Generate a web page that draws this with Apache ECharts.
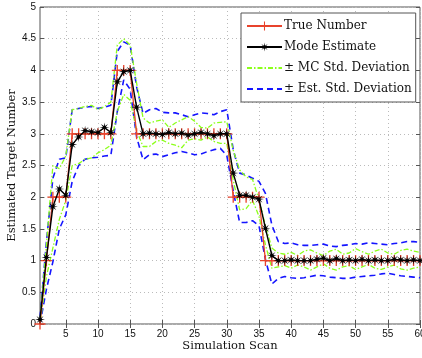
<!DOCTYPE html>
<html>
<head>
<meta charset="utf-8">
<script src="https://cdn.jsdelivr.net/npm/echarts@6/dist/echarts.min.js"></script>
<style>
  html, body { margin: 0; padding: 0; background: #fff; }
  #chart { width: 422px; height: 358px; }
</style>
</head>
<body>
<div id="chart"></div>
<script>
// simulation scans 1..60
var scans = [];
for (var i = 1; i <= 60; i++) scans.push(String(i));

var yTicks = [0, 0.5, 1, 1.5, 2, 2.5, 3, 3.5, 4, 4.5, 5];

var trueNumber = [0, 1, 2, 2, 2, 3, 3, 3, 3, 3, 3, 3, 4, 4, 4, 3, 3, 3, 3, 3,
  3, 3, 3, 3, 3, 3, 3, 3, 3, 3, 2, 2, 2, 2, 2, 1, 1, 1, 1, 1,
  1, 1, 1, 1, 1, 1, 1, 1, 1, 1, 1, 1, 1, 1, 1, 1, 1, 1, 1, 1];

var modeEstimate = [0.07, 1.05, 1.85, 2.13, 2.03, 2.83, 2.95, 3.05, 3.03, 3.02,
  3.1, 3.02, 3.82, 3.98, 4.0, 3.42, 3.0, 3.01, 3.0, 2.99,
  3.02, 3.0, 3.01, 2.98, 3.0, 3.02, 3.0, 2.97, 3.0, 3.0,
  2.38, 2.03, 2.03, 2.0, 1.97, 1.51, 1.08, 1.0, 1.0, 1.01,
  1.0, 1.0, 1.0, 1.02, 1.04, 1.0, 1.03, 1.0, 1.01, 1.0,
  1.02, 1.0, 1.01, 1.0, 1.0, 1.02, 1.01, 1.0, 1.01, 1.0];

var mcUpper = [0.06, 1.25, 2.5, 2.45, 2.65, 3.38, 3.4, 3.43, 3.45, 3.38,
  3.43, 3.5, 4.4, 4.5, 4.4, 3.8, 3.25, 3.17, 3.2, 3.22,
  3.1, 3.17, 3.22, 3.27, 3.2, 3.1, 3.09, 3.17, 3.18, 3.19,
  2.74, 2.43, 2.32, 2.28, 1.96, 1.55, 1.2, 1.12, 1.1, 1.13,
  1.08, 1.15, 1.17, 1.12, 1.08, 1.15, 1.18, 1.1, 1.12, 1.19,
  1.14, 1.1, 1.15, 1.18, 1.12, 1.1, 1.16, 1.18, 1.15, 1.13];

var mcLower = [0.0, 0.75, 1.2, 1.65, 1.95, 2.5, 2.53, 2.6, 2.62, 2.7,
  2.75, 2.82, 3.35, 3.62, 3.53, 3.05, 2.8, 2.8, 2.88, 2.9,
  2.85, 2.82, 2.78, 2.9, 2.92, 2.9, 2.95, 2.88, 2.85, 2.85,
  2.27, 1.8, 1.82, 1.95, 1.7, 1.25, 0.88, 0.9, 0.92, 0.88,
  0.93, 0.9, 0.85, 0.9, 0.95, 0.88, 0.85, 0.9, 0.92, 0.86,
  0.9, 0.94, 0.88, 0.86, 0.9, 0.93, 0.87, 0.85, 0.88, 0.9];

var estUpper = [0.1, 1.3, 2.3, 2.6, 2.62, 3.38, 3.4, 3.42, 3.43, 3.4,
  3.42, 3.45, 4.3, 4.45, 4.4, 3.74, 3.32, 3.38, 3.4, 3.34,
  3.33, 3.33, 3.3, 3.27, 3.3, 3.33, 3.32, 3.3, 3.35, 3.38,
  2.75, 2.38, 2.35, 2.3, 2.25, 2.06, 1.56, 1.3, 1.27, 1.28,
  1.25, 1.24, 1.24, 1.25, 1.26, 1.23, 1.22, 1.24, 1.25, 1.27,
  1.26, 1.28, 1.27, 1.26, 1.25, 1.27, 1.28, 1.3, 1.3, 1.29];

var estLower = [0.0, 0.55, 0.98, 1.5, 1.72, 2.25, 2.5, 2.6, 2.62, 2.63,
  2.65, 2.66, 3.35, 3.85, 3.7, 2.95, 2.59, 2.67, 2.68, 2.64,
  2.67, 2.7, 2.72, 2.7, 2.67, 2.68, 2.72, 2.75, 2.77, 2.66,
  2.1, 1.6, 1.6, 1.63, 1.55, 1.02, 0.63, 0.72, 0.75, 0.73,
  0.72, 0.73, 0.75, 0.77, 0.76, 0.74, 0.73, 0.72, 0.72, 0.74,
  0.75, 0.76, 0.77, 0.79, 0.8, 0.78, 0.76, 0.75, 0.74, 0.73];

var RED = '#e8432c', BLACK = '#000', GREEN = '#8cff1a', BLUE = '#1515ff';
var SERIF = '"DejaVu Serif", serif';
var SANS = '"Liberation Sans", Arial, sans-serif';

// marker glyphs
var plusPath = 'path://M0,4.4H10V5.6H0Z M4.4,0H5.6V10H4.4Z';
function starPath(n, rOut, rIn) {
  var d = '';
  for (var k = 0; k < 2 * n; k++) {
    var r = k % 2 === 0 ? rOut : rIn;
    var a = Math.PI * k / n;
    var px = (5 + r * Math.cos(a)).toFixed(2), py = (5 + r * Math.sin(a)).toFixed(2);
    d += (k === 0 ? 'M' : 'L') + px + ',' + py;
  }
  return 'path://' + d + 'Z';
}
var asterisk = starPath(8, 5, 1.5);

function every5(index) { return (index + 1) % 5 === 0; }

var chartDom = document.getElementById('chart');
var myChart = echarts.init(chartDom);

var option = {
  animation: false,
  backgroundColor: '#fff',
  grid: {
    left: 40, right: 2, top: 7, bottom: 34,
    outerBoundsMode: 'none',
    show: true, borderColor: '#555', borderWidth: 1, backgroundColor: 'transparent'
  },
  legend: {
    orient: 'vertical',
    left: 241, top: 13,
    data: [
      { name: 'True Number' },
      { name: 'Mode Estimate' },
      { name: '± MC Std. Deviation', itemStyle: { opacity: 0 } },
      { name: '± Est. Std. Deviation', itemStyle: { opacity: 0 } }
    ],
    backgroundColor: '#fff',
    borderColor: '#555', borderWidth: 1, borderRadius: 0,
    padding: [7, 4, 7, 5],
    itemWidth: 35, itemHeight: 11, itemGap: 9,
    textStyle: { fontFamily: SERIF, fontSize: 12, color: '#111', padding: [0, 0, 0, -3] }
  },
  xAxis: [{
    type: 'category',
    data: scans,
    boundaryGap: false,
    name: 'Simulation Scan',
    nameLocation: 'middle',
    nameGap: 16,
    nameMoveOverlap: false,
    nameTextStyle: { fontFamily: SERIF, fontSize: 11.5, color: '#111' },
    axisLine: { show: false },
    axisTick: { show: true, inside: true, length: 4, interval: every5, lineStyle: { color: '#555' } },
    axisLabel: { interval: every5, fontFamily: SANS, fontSize: 10, color: '#111', margin: 5 },
    splitLine: { show: true, interval: every5, lineStyle: { type: [1, 3], color: '#bbb', width: 1 } }
  }, {
    type: 'category',
    data: scans,
    boundaryGap: false,
    position: 'top',
    axisLine: { show: false },
    axisTick: { show: true, inside: true, length: 4, interval: every5, lineStyle: { color: '#555' } },
    axisLabel: { show: false },
    splitLine: { show: false }
  }],
  yAxis: [{
    type: 'value',
    min: yTicks[0], max: yTicks[yTicks.length - 1], interval: 0.5,
    name: 'Estimated Target Number',
    nameLocation: 'middle',
    nameGap: 22,
    nameMoveOverlap: false,
    nameTextStyle: { fontFamily: SERIF, fontSize: 11.5, color: '#111' },
    axisLine: { show: false },
    axisTick: { show: true, inside: true, length: 4, lineStyle: { color: '#555' } },
    axisLabel: { fontFamily: SANS, fontSize: 10, color: '#111', margin: 4 },
    splitLine: { show: true, lineStyle: { type: [1, 3], color: '#bbb', width: 1 } }
  }, {
    type: 'value',
    min: yTicks[0], max: yTicks[yTicks.length - 1], interval: 0.5,
    position: 'right',
    axisLine: { show: false },
    axisTick: { show: true, inside: true, length: 4, lineStyle: { color: '#555' } },
    axisLabel: { show: false },
    splitLine: { show: false }
  }],
  series: [
    {
      name: '± Est. Std. Deviation', type: 'line', data: estUpper, symbol: 'none',
      lineStyle: { color: BLUE, width: 1.6, type: [6, 4] }, itemStyle: { color: BLUE }, z: 2
    },
    {
      name: '± Est. Std. Deviation', type: 'line', data: estLower, symbol: 'none',
      lineStyle: { color: BLUE, width: 1.6, type: [6, 4] }, itemStyle: { color: BLUE }, z: 2
    },
    {
      name: '± MC Std. Deviation', type: 'line', data: mcUpper, symbol: 'none',
      lineStyle: { color: GREEN, width: 1.3, type: [5, 2, 1.5, 2] }, itemStyle: { color: GREEN }, z: 3
    },
    {
      name: '± MC Std. Deviation', type: 'line', data: mcLower, symbol: 'none',
      lineStyle: { color: GREEN, width: 1.3, type: [5, 2, 1.5, 2] }, itemStyle: { color: GREEN }, z: 3
    },
    {
      name: 'True Number', type: 'line', data: trueNumber,
      symbol: plusPath, symbolSize: 11, showAllSymbol: true,
      lineStyle: { color: RED, width: 1.3 }, itemStyle: { color: RED }, z: 4
    },
    {
      name: 'Mode Estimate', type: 'line', data: modeEstimate,
      symbol: asterisk, symbolSize: 10, showAllSymbol: true,
      lineStyle: { color: BLACK, width: 1.4 }, itemStyle: { color: BLACK }, z: 5
    }
  ]
};

myChart.setOption(option);
</script>
</body>
</html>
